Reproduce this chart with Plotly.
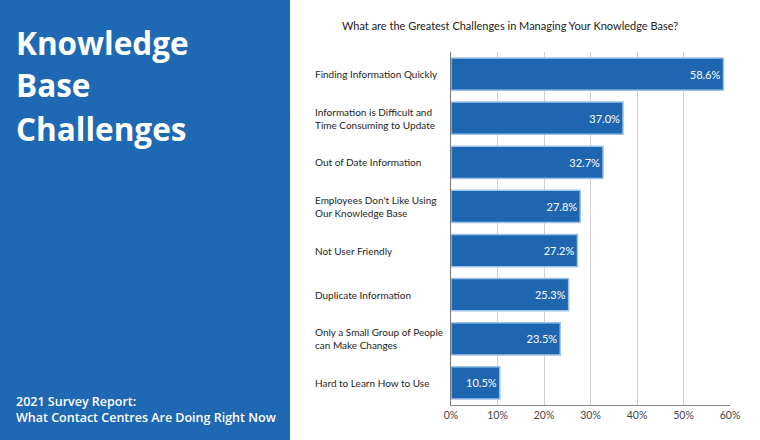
import plotly.graph_objects as go

# survey answers, top to bottom
challenges = [
    "Finding Information Quickly",
    "Information is Difficult and<br>Time Consuming to Update",
    "Out of Date Information",
    "Employees Don't Like Using<br>Our Knowledge Base",
    "Not User Friendly",
    "Duplicate Information",
    "Only a Small Group of People<br>can Make Changes",
    "Hard to Learn How to Use",
]
share = [58.6, 37.0, 32.7, 27.8, 27.2, 25.3, 23.5, 10.5]

x_ticks = [0, 10, 20, 30, 40, 50, 60]
x_tick_text = ["0%", "10%", "20%", "30%", "40%", "50%", "60%"]

title_lines = ["Knowledge", "Base", "Challenges"]
footer = "2021 Survey Report:<br>What Contact Centres Are Doing Right Now"
chart_title = "What are the Greatest Challenges in Managing Your Knowledge Base?"

panel_blue = "#1f69b4"
bar_blue = "#1f66b1"
font_name = "Lato"

fig = go.Figure(go.Bar(
    x=share,
    y=challenges,
    orientation="h",
    marker=dict(color=bar_blue, line=dict(color="#9fc4ea", width=1.5)),
    texttemplate="%{x:.1f}%",
    textposition="inside",
    insidetextanchor="end",
    textfont=dict(color="white", size=11, family=font_name),
    width=0.73,
    hoverinfo="skip",
))

fig.update_layout(
    width=760, height=440,
    margin=dict(l=0, r=0, t=0, b=0, autoexpand=False),
    paper_bgcolor="white", plot_bgcolor="white",
    showlegend=False,
    font=dict(family=font_name, color="#333333"),
    xaxis=dict(
        domain=[451 / 760, 730 / 760],
        range=[0, 60], tickvals=x_ticks, ticktext=x_tick_text,
        showgrid=True, gridcolor="#cfcfcf", gridwidth=1,
        showline=True, linecolor="#8a8a8a", linewidth=1,
        zeroline=False, ticks="", fixedrange=True, automargin=False,
        tickfont=dict(size=10.5, color="#444444"),
    ),
    yaxis=dict(
        domain=[35 / 440, 388 / 440],
        autorange="reversed",
        showticklabels=False, showgrid=False,
        showline=True, linecolor="#777777", linewidth=1,
        ticks="", automargin=False,
    ),
)

# left blue panel
fig.add_shape(type="rect", xref="paper", yref="paper",
              x0=0, x1=290 / 760, y0=0, y1=1,
              fillcolor=panel_blue, line=dict(width=0), layer="below")

for i, line in enumerate(title_lines):
    fig.add_annotation(text="<b>" + line + "</b>", xref="paper", yref="paper",
                       x=14 / 760, y=1 - (42 + 43 * i) / 440,
                       xanchor="left", yanchor="middle", showarrow=False,
                       font=dict(family="Open Sans", size=31.5, color="white"))

fig.add_annotation(text=footer, xref="paper", yref="paper",
                   x=14 / 760, y=1 - 409 / 440,
                   xanchor="left", yanchor="middle", showarrow=False, align="left",
                   font=dict(family="Open Sans", size=12.5, color="white", weight=600))

fig.add_annotation(text=chart_title, xref="paper", yref="paper",
                   x=510 / 760, y=1 - 26 / 440,
                   xanchor="center", yanchor="middle", showarrow=False,
                   font=dict(family=font_name, size=11, color="#222222"))

# left-aligned category labels, one annotation per line
for name in challenges:
    parts = name.split("<br>")
    for k, part in enumerate(parts):
        fig.add_annotation(text=part, xref="paper", yref="y",
                           x=313 / 760, y=name,
                           yshift=((len(parts) - 1) / 2 - k) * 13,
                           xanchor="left", yanchor="middle", showarrow=False,
                           font=dict(family=font_name, size=10, color="#1e1e1e"))

# drop the default page margin so the figure sits flush in the window
fig.write_html("out.html", config={"displayModeBar": False},
               post_script="document.body.style.margin='0';"
                           "document.documentElement.style.overflow='hidden';")
